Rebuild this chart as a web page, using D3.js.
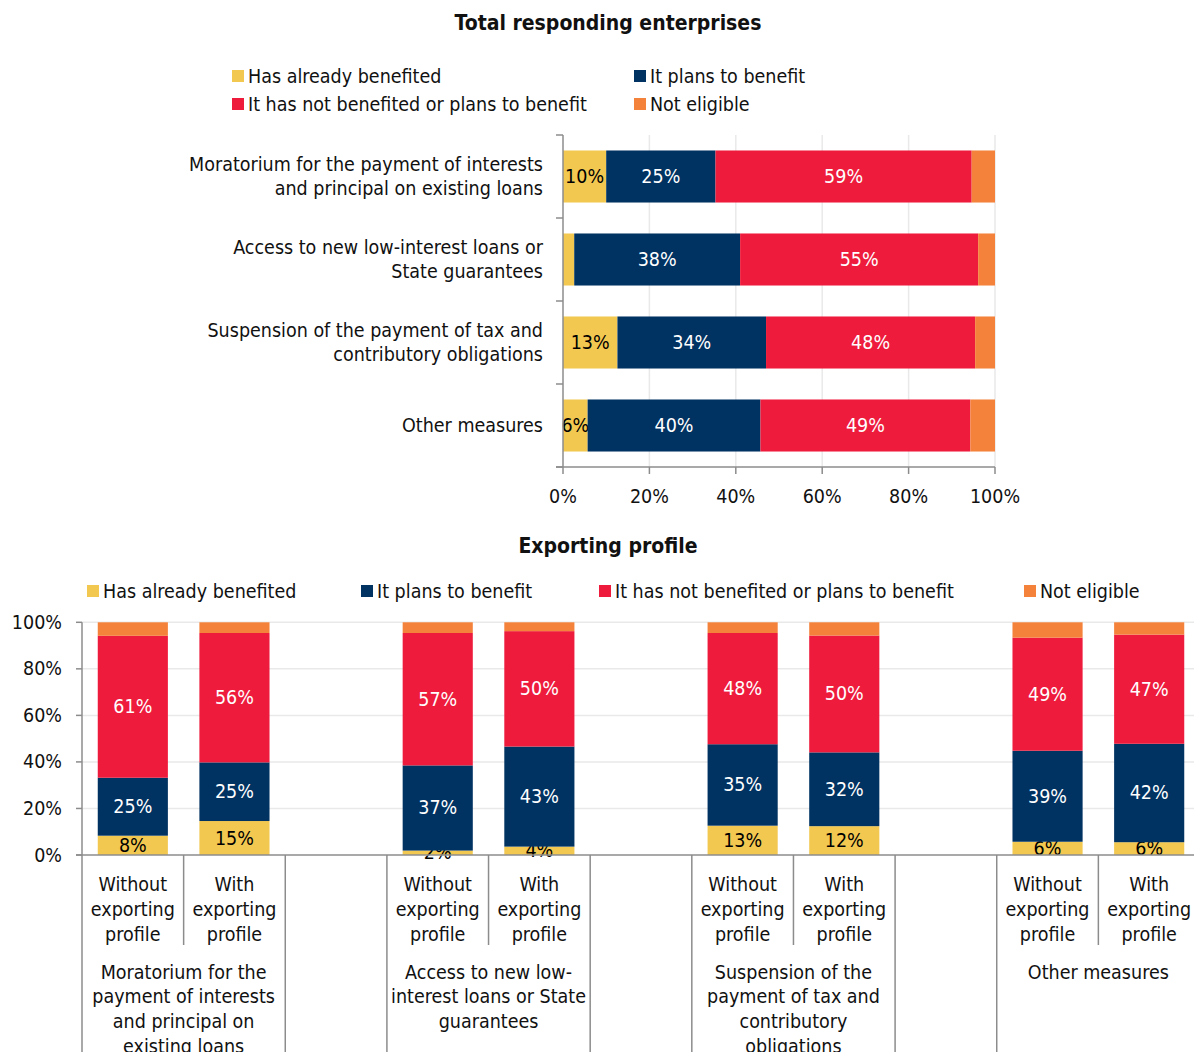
<!DOCTYPE html>
<html>
<head>
<meta charset="utf-8">
<script src="https://cdn.jsdelivr.net/npm/d3@7"></script>
<style>
  body { margin: 0; background: #fff; }
  svg { display: block; font-family: "DejaVu Sans Condensed", "DejaVu Sans", sans-serif; }
</style>
</head>
<body>
<div id="chart"></div>
<script>
// ---- data ----
const seriesNames = ["Has already benefited", "It plans to benefit", "It has not benefited or plans to benefit", "Not eligible"];
const seriesColors = ["#F2C851", "#003262", "#EE1B3C", "#F4823A"];
const labelColors = ["#000", "#fff", "#fff", null];

const measures = [
  "Moratorium for the payment of interests\nand principal on existing loans",
  "Access to new low-interest loans or\nState guarantees",
  "Suspension of the payment of tax and\ncontributory obligations",
  "Other measures"
];
const totalBenefited = [10, 2.6, 12.6, 5.7];
const totalPlans = [25.3, 38.4, 34.4, 40];
const totalNot = [59.3, 55.1, 48.4, 48.6];
const totalNotEligible = [5.4, 3.9, 4.6, 5.7];

const groupLabels = [
  "Moratorium for the\npayment of interests\nand principal on\nexisting loans",
  "Access to new low-\ninterest loans or State\nguarantees",
  "Suspension of the\npayment of tax and\ncontributory\nobligations",
  "Other measures"
];
const profiles = ["Without\nexporting\nprofile", "With\nexporting\nprofile"];
// bars ordered: group 0 without, group 0 with, group 1 without, ...
const expBenefited = [8.3, 14.6, 1.9, 3.6, 12.6, 12.4, 5.7, 5.5];
const expPlans = [24.9, 25.2, 36.6, 43, 35, 31.7, 39.1, 42.3];
const expNot = [61, 55.6, 56.9, 49.6, 47.8, 50.2, 48.6, 46.9];
const expNotEligible = [5.8, 4.6, 4.6, 3.8, 4.6, 5.7, 6.6, 5.3];

const pctTicks = [0, 20, 40, 60, 80, 100];

// ---- setup ----
const width = 1194, height = 1052;
const axisColor = "#8c8c8c", gridColor = "#e9e9e9", textColor = "#111";
const fs = 19.5;

const svg = d3.select("#chart").append("svg")
  .attr("width", width).attr("height", height)
  .attr("viewBox", [0, 0, width, height]);

function multiline(sel, text, x, yCenter, lh, anchor) {
  const lines = text.split("\n");
  const t = sel.append("text")
    .attr("text-anchor", anchor)
    .attr("font-size", fs)
    .attr("fill", textColor);
  lines.forEach((l, i) => {
    t.append("tspan")
      .attr("x", x)
      .attr("y", yCenter + (i - (lines.length - 1) / 2) * lh)
      .attr("dominant-baseline", "central")
      .text(l);
  });
  return t;
}

function legendItem(g, i, x, y) {
  g.append("rect").attr("x", x).attr("y", y - 6).attr("width", 12).attr("height", 12)
    .attr("fill", seriesColors[i]);
  g.append("text").attr("x", x + 16).attr("y", y).attr("dominant-baseline", "central")
    .attr("font-size", fs).attr("fill", textColor).text(seriesNames[i]);
}

// =================== TOP CHART ===================
svg.append("text").attr("x", 608).attr("y", 23).attr("text-anchor", "middle")
  .attr("dominant-baseline", "central").attr("font-weight", "bold").attr("font-size", 21)
  .attr("fill", textColor).text("Total responding enterprises");

const topLegend = svg.append("g");
legendItem(topLegend, 0, 232, 76);
legendItem(topLegend, 1, 634, 76);
legendItem(topLegend, 2, 232, 104);
legendItem(topLegend, 3, 634, 104);

const topRows = measures.map((m, i) => ({
  name: m, v0: totalBenefited[i], v1: totalPlans[i], v2: totalNot[i], v3: totalNotEligible[i]
}));
const keys = ["v0", "v1", "v2", "v3"];

const x = d3.scaleLinear().domain([0, 100]).range([563, 995]);
const y = d3.scaleBand().domain(d3.range(measures.length)).range([135, 467])
  .paddingInner(0.373).paddingOuter(0.1865);

// grid
svg.append("g").selectAll("line").data(pctTicks.slice(1)).join("line")
  .attr("x1", d => x(d)).attr("x2", d => x(d))
  .attr("y1", 135).attr("y2", 467)
  .attr("stroke", gridColor).attr("stroke-width", 1.5);

const topStack = d3.stack().keys(keys)(topRows);
const topG = svg.append("g");
topStack.forEach((s, si) => {
  topG.append("g").selectAll("rect").data(s).join("rect")
    .attr("x", d => x(d[0])).attr("width", d => x(d[1]) - x(d[0]))
    .attr("y", (d, i) => y(i)).attr("height", y.bandwidth())
    .attr("fill", seriesColors[si]);
  if (labelColors[si]) {
    topG.append("g").selectAll("text").data(s.filter(d => d[1] - d[0] >= 3)).join("text")
      .attr("x", d => x((d[0] + d[1]) / 2))
      .attr("y", d => y(topRows.indexOf(d.data)) + y.bandwidth() / 2)
      .attr("text-anchor", "middle").attr("dominant-baseline", "central")
      .attr("font-size", fs).attr("fill", labelColors[si])
      .text(d => Math.round(d[1] - d[0]) + "%");
  }
});

// axes
const topAxes = svg.append("g").attr("stroke", axisColor).attr("stroke-width", 1.5);
topAxes.append("line").attr("x1", x(0)).attr("x2", x(0)).attr("y1", 135).attr("y2", 467);
topAxes.append("line").attr("x1", 556).attr("x2", x(100)).attr("y1", 467).attr("y2", 467);
topAxes.selectAll(".yt").data(d3.range(measures.length + 1)).join("line")
  .attr("x1", 556).attr("x2", x(0))
  .attr("y1", i => 135 + i * y.step()).attr("y2", i => 135 + i * y.step());
topAxes.selectAll(".xt").data(pctTicks).join("line")
  .attr("x1", d => x(d)).attr("x2", d => x(d)).attr("y1", 467).attr("y2", 474);

svg.append("g").selectAll("text").data(pctTicks).join("text")
  .attr("x", d => x(d)).attr("y", 496).attr("text-anchor", "middle")
  .attr("dominant-baseline", "central").attr("font-size", fs).attr("fill", textColor)
  .text(d => d + "%");

const catG = svg.append("g");
measures.forEach((m, i) => multiline(catG, m, 543, y(i) + y.bandwidth() / 2, 24.5, "end"));

// =================== BOTTOM CHART ===================
svg.append("text").attr("x", 608).attr("y", 546).attr("text-anchor", "middle")
  .attr("dominant-baseline", "central").attr("font-weight", "bold").attr("font-size", 21)
  .attr("fill", textColor).text("Exporting profile");

const botLegend = svg.append("g");
[87, 361, 599, 1024].forEach((lx, i) => legendItem(botLegend, i, lx, 591));

// slots: two bars per group, a blank slot between groups
const slots = [];
groupLabels.forEach((g, gi) => {
  profiles.forEach((p, pi) => slots.push({ key: gi + "-" + pi, group: gi, profile: pi, bar: gi * 2 + pi }));
  if (gi < groupLabels.length - 1) slots.push({ key: "gap" + gi, group: null });
});
const barSlots = slots.filter(s => s.group !== null);
const botRows = barSlots.map(s => ({
  key: s.key, v0: expBenefited[s.bar], v1: expPlans[s.bar], v2: expNot[s.bar], v3: expNotEligible[s.bar]
}));

const bx = d3.scaleBand().domain(slots.map(s => s.key)).range([82, 1200]);
const by = d3.scaleLinear().domain([0, 100]).range([855, 622.3]);
const barW = bx.bandwidth() * 0.69;
const barX = k => bx(k) + (bx.bandwidth() - barW) / 2;

svg.append("g").selectAll("line").data(pctTicks.slice(1)).join("line")
  .attr("x1", 82).attr("x2", 1200)
  .attr("y1", d => by(d)).attr("y2", d => by(d))
  .attr("stroke", gridColor).attr("stroke-width", 1.5);

const botStack = d3.stack().keys(keys)(botRows);
const botG = svg.append("g");
botStack.forEach((s, si) => {
  botG.append("g").selectAll("rect").data(s).join("rect")
    .attr("x", d => barX(d.data.key)).attr("width", barW)
    .attr("y", d => by(d[1])).attr("height", d => by(d[0]) - by(d[1]))
    .attr("fill", seriesColors[si]);
  if (labelColors[si]) {
    botG.append("g").selectAll("text").data(s).join("text")
      .attr("x", d => bx(d.data.key) + bx.bandwidth() / 2)
      .attr("y", d => by((d[0] + d[1]) / 2))
      .attr("text-anchor", "middle").attr("dominant-baseline", "central")
      .attr("font-size", fs).attr("fill", labelColors[si])
      .text(d => Math.round(d[1] - d[0]) + "%");
  }
});

const botAxes = svg.append("g").attr("stroke", axisColor).attr("stroke-width", 1.5);
botAxes.append("line").attr("x1", 82).attr("x2", 82).attr("y1", by(100)).attr("y2", by(0));
botAxes.append("line").attr("x1", 76).attr("x2", 1200).attr("y1", by(0)).attr("y2", by(0));
botAxes.selectAll(".yt").data(pctTicks).join("line")
  .attr("x1", 76).attr("x2", 82).attr("y1", d => by(d)).attr("y2", d => by(d));

// category dividers: full depth at group edges, short between profiles
const bounds = d3.range(slots.length + 1).map(k => {
  const left = slots[k - 1], right = slots[k];
  const inner = left && right && left.group !== null && right.group !== null && left.group === right.group;
  return { x: 82 + k * bx.step(), inner };
});
botAxes.selectAll(".div").data(bounds).join("line")
  .attr("x1", d => d.x).attr("x2", d => d.x)
  .attr("y1", by(0)).attr("y2", d => d.inner ? 945 : height);

svg.append("g").selectAll("text").data(pctTicks).join("text")
  .attr("x", 62).attr("y", d => by(d)).attr("text-anchor", "end")
  .attr("dominant-baseline", "central").attr("font-size", fs).attr("fill", textColor)
  .text(d => d + "%");

const profG = svg.append("g");
barSlots.forEach(s => multiline(profG, profiles[s.profile], bx(s.key) + bx.bandwidth() / 2, 909, 25, "middle"));
groupLabels.forEach((g, gi) => {
  const cx = bx(gi + "-0") + bx.step();
  const lines = g.split("\n").length;
  multiline(profG, g, cx, 972 + (lines - 1) / 2 * 24.7, 24.7, "middle");
});
</script>
</body>
</html>
